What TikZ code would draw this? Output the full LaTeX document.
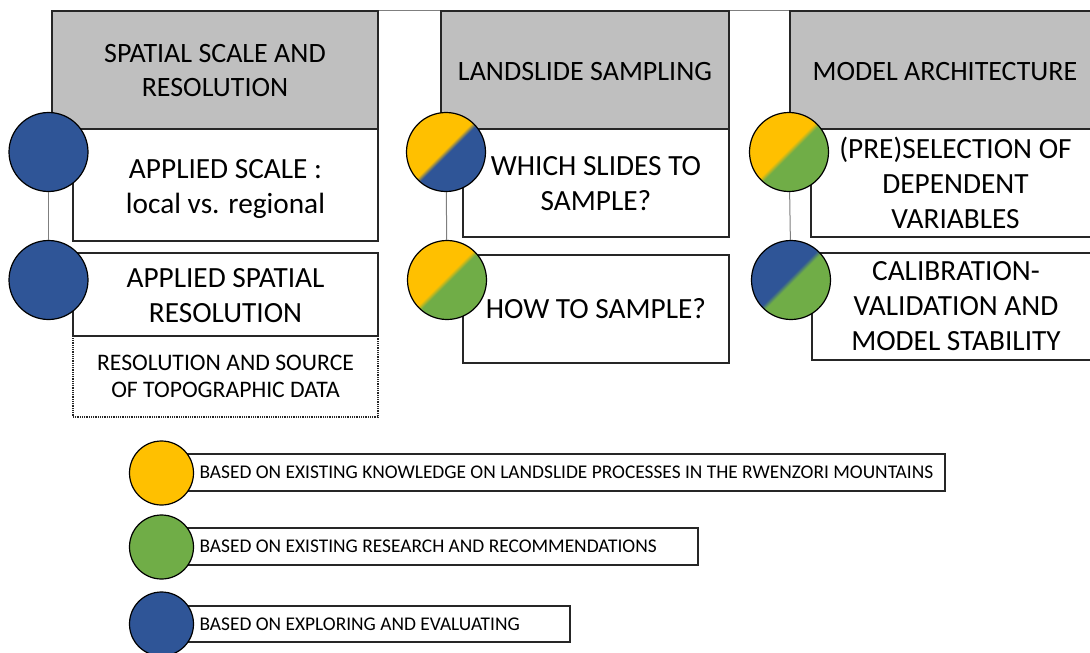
\documentclass[tikz,border=0pt]{standalone}
\usepackage{fontspec}
\setmainfont{Carlito}
\definecolor{cgray}{HTML}{BFBFBF}
\definecolor{cyel}{HTML}{FFC000}
\definecolor{cblu}{HTML}{2F5597}
\definecolor{cgrn}{HTML}{70AD47}
\definecolor{cline}{HTML}{262626}
\definecolor{cconn}{HTML}{7F7F7F}
\pgfdeclarehorizontalshading{yb}{100bp}{color(0bp)=(cyel); color(48.5bp)=(cyel); color(51.5bp)=(cblu); color(100bp)=(cblu)}
\pgfdeclarehorizontalshading{yg}{100bp}{color(0bp)=(cyel); color(48.5bp)=(cyel); color(51.5bp)=(cgrn); color(100bp)=(cgrn)}
\pgfdeclarehorizontalshading{bg}{100bp}{color(0bp)=(cblu); color(48.5bp)=(cblu); color(51.5bp)=(cgrn); color(100bp)=(cgrn)}
\begin{document}
\begin{tikzpicture}[x=1pt,y=-1pt,
  hdrbox/.style={draw=cline, line width=1.2pt, fill=cgray, inner sep=0pt, minimum height=118pt},
  hdrtext/.style={align=center, inner sep=0pt, font=\fontsize{28}{34}\selectfont},
  whitebox/.style={draw=cline, line width=1.2pt, fill=white, inner sep=0pt},
  wtext/.style={align=center, inner sep=0pt, font=\fontsize{29.3}{35}\selectfont},
  dotbox/.style={draw=cline, line width=1.2pt, dash pattern=on 1pt off 0.8pt, fill=white, inner sep=0pt},
  dtext/.style={align=center, inner sep=0pt, font=\fontsize{23.7}{27}\selectfont},
  dotc/.style={circle, draw=black, line width=1.2pt, minimum size=79pt, inner sep=0pt},
  legc/.style={circle, draw=black, line width=1.2pt, minimum size=64pt, inner sep=0pt},
  legbox/.style={draw=cline, line width=1.2pt, fill=white, inner sep=0pt},
  legtext/.style={anchor=west, inner sep=0pt, font=\fontsize{19.4}{23}\selectfont},
  conn/.style={draw=cconn, line width=1pt},
  topline/.style={draw=cconn, line width=0.8pt}]
\useasboundingbox (0,0) rectangle (1090,653);
% header boxes
\node[hdrbox, minimum width=326pt] (g1) at (215,70) {};
\node[hdrbox, minimum width=288pt] (g2) at (585,70) {};
\node[hdrbox, minimum width=310pt] (g3) at (945,70) {};
\node[hdrtext] (tg1) at ([yshift=-1pt]g1.center) {SPATIAL SCALE AND\\RESOLUTION};
\node[hdrtext] (tg2) at ([yshift=-2pt]g2.center) {LANDSLIDE SAMPLING};
\node[hdrtext] (tg3) at ([yshift=-2pt]g3.center) {MODEL ARCHITECTURE};
\draw[topline] (g1.north east) -- (g2.north west);
\draw[topline] (g2.north east) -- (g3.north west);
% column 1
\node[dotbox, minimum width=305pt, minimum height=81pt] (d1) at (225.5,376.5) {};
\node[dtext] (td1) at (d1.center) {RESOLUTION AND SOURCE\\OF TOPOGRAPHIC DATA};
\node[whitebox, minimum width=305pt, minimum height=112pt] (b1a) at (225.5,185) {};
\node[wtext] (t1a) at ([yshift=-4pt]b1a.center) {APPLIED SCALE :\\local vs. regional};
\node[whitebox, minimum width=305pt, minimum height=83pt] (b1b) at (225.5,294.5) {};
\node[wtext] (t1b) at ([yshift=-1pt]b1b.center) {APPLIED SPATIAL\\RESOLUTION};
% column 2
\node[whitebox, minimum width=266pt, minimum height=108pt] (b2a) at (596,183) {};
\node[wtext] (t2a) at ([yshift=-1pt]b2a.center) {WHICH SLIDES TO\\SAMPLE?};
\node[whitebox, minimum width=266pt, minimum height=108pt] (b2b) at (596,309) {};
\node[wtext] (t2b) at (b2b.center) {HOW TO SAMPLE?};
% column 3
\node[whitebox, minimum width=289pt, minimum height=108pt] (b3a) at (955.5,183) {};
\node[wtext] (t3a) at (b3a.center) {(PRE)SELECTION OF\\DEPENDENT\\VARIABLES};
\node[whitebox, minimum width=288pt, minimum height=107pt] (b3b) at (956,306.5) {};
\node[wtext] (t3b) at (b3b.center) {CALIBRATION-\\VALIDATION AND\\MODEL STABILITY};
% circles
\node[dotc, fill=cblu] (c1) at (48.5,152) {};
\node[dotc, fill=cblu] (c2) at (48.5,280) {};
\node[dotc, shading=yb, shading angle=-45] (c3) at (446,152) {};
\node[dotc, shading=yg, shading angle=-45] (c4) at (447,280) {};
\node[dotc, shading=yg, shading angle=-45] (c5) at (789,152) {};
\node[dotc, shading=bg, shading angle=-45] (c6) at (791,280) {};
\draw[conn] (c1) -- (c2);
\draw[conn] (c3) -- (c4);
\draw[conn] (c5) -- (c6);
% legend
\node[legbox, minimum width=762pt, minimum height=37pt] (lb1) at (564,472.5) {};
\node[legbox, minimum width=515pt, minimum height=37pt] (lb2) at (440.5,546.5) {};
\node[legbox, minimum width=387pt, minimum height=36pt] (lb3) at (376.5,624) {};
\node[legtext] (lt1) at ([xshift=17pt]lb1.west) {BASED ON EXISTING KNOWLEDGE ON LANDSLIDE PROCESSES IN THE RWENZORI MOUNTAINS};
\node[legtext] (lt2) at ([xshift=17pt]lb2.west) {BASED ON EXISTING RESEARCH AND RECOMMENDATIONS};
\node[legtext] (lt3) at ([xshift=17pt]lb3.west) {BASED ON EXPLORING AND EVALUATING};
\node[legc, fill=cyel] (lc1) at (161.5,473) {};
\node[legc, fill=cgrn] (lc2) at (161.5,547) {};
\node[legc, fill=cblu] (lc3) at (161.5,624) {};
\end{tikzpicture}
\end{document}
